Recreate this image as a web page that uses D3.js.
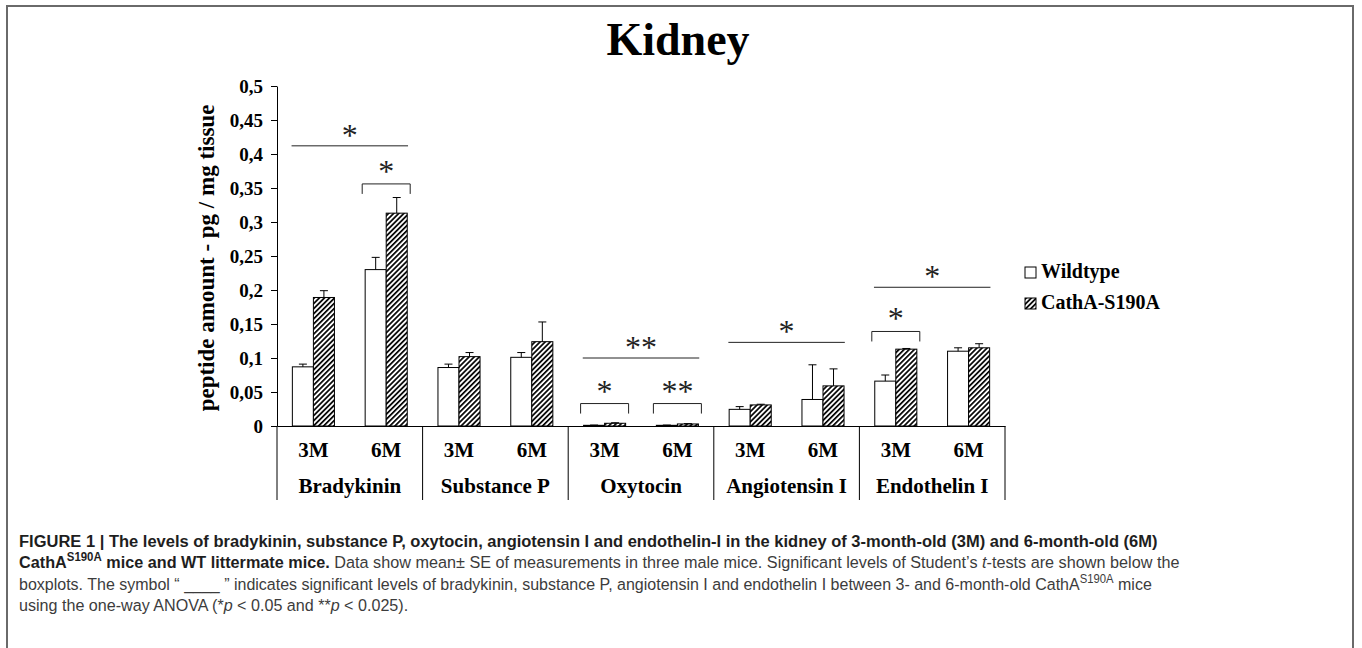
<!DOCTYPE html>
<html>
<head>
<meta charset="utf-8">
<style>
  body { margin: 0; background: #fff; }
  svg { display: block; }
  .serif { font-family: "Liberation Serif", "Times New Roman", serif; }
</style>
</head>
<body>
<svg width="1362" height="648"></svg>
<script src="https://d3js.org/d3.v7.min.js"></script>
<script>

  // ---- data ----
  var groups = ["Bradykinin", "Substance P", "Oxytocin", "Angiotensin I", "Endothelin I"];
  var ages = ["3M", "6M"];
  var seriesNames = ["Wildtype", "CathA-S190A"];

  // means per group: [3M, 6M]
  var wildtype = [[0.087, 0.230], [0.086, 0.101], [0.001, 0.001], [0.0245, 0.039], [0.066, 0.110]];
  var cathA = [[0.189, 0.313], [0.102, 0.124], [0.004, 0.003], [0.031, 0.059], [0.113, 0.115]];
  // standard errors (drawn upward only)
  var wildtypeSE = [[0.004, 0.018], [0.005, 0.007], [0.0004, 0.0004], [0.004, 0.051], [0.009, 0.005]];
  var cathASE = [[0.010, 0.023], [0.006, 0.029], [0.0008, 0.0005], [0.001, 0.025], [0.001, 0.006]];

  var yTicks = [0, 0.05, 0.1, 0.15, 0.2, 0.25, 0.3, 0.35, 0.4, 0.45, 0.5];
  var yTickLabels = ["0", "0,05", "0,1", "0,15", "0,2", "0,25", "0,3", "0,35", "0,4", "0,45", "0,5"];

  // one-way ANOVA lines (whole group) and t-test brackets (per age)
  var anovaMarks = [
    { group: "Bradykinin", level: 0.412, label: "*" },
    { group: "Oxytocin", level: 0.100, label: "**" },
    { group: "Angiotensin I", level: 0.123, label: "*" },
    { group: "Endothelin I", level: 0.204, label: "*" }
  ];
  var tTestMarks = [
    { group: "Bradykinin", age: "6M", level: 0.356, label: "*" },
    { group: "Oxytocin", age: "3M", level: 0.033, label: "*" },
    { group: "Oxytocin", age: "6M", level: 0.033, label: "**" },
    { group: "Endothelin I", age: "3M", level: 0.139, label: "*" }
  ];

  var captionLines = [
    [{ t: "FIGURE 1 | The levels of bradykinin, substance P, oxytocin, angiotensin I and endothelin-I in the kidney of 3-month-old (3M) and 6-month-old (6M)", b: 1 }],
    [{ t: "CathA", b: 1 }, { t: "S190A", b: 1, sup: 1 }, { t: " mice and WT littermate mice.", b: 1 },
     { t: " Data show mean\u00b1 SE of measurements in three male mice. Significant levels of Student\u2019s " },
     { t: "t", i: 1 }, { t: "-tests are shown below the" }],
    [{ t: "boxplots. The symbol \u201c ____ \u201d indicates significant levels of bradykinin, substance P, angiotensin I and endothelin I between 3- and 6-month-old CathA" },
     { t: "S190A", sup: 1 }, { t: " mice" }],
    [{ t: "using the one-way ANOVA (*" }, { t: "p", i: 1 }, { t: " < 0.05 and **" }, { t: "p", i: 1 }, { t: " < 0.025)." }]
  ];

  // ---- layout ----
  var svg = d3.select("svg");
  var plotLeft = 277, plotRight = 1005, plotTop = 86, plotBottom = 426;

  svg.append("rect").attr("width", 1362).attr("height", 648).attr("fill", "#fff");

  // frame of the figure panel
  svg.append("path")
    .attr("d", "M7,648V6H1353V648")
    .attr("fill", "none")
    .attr("stroke", "#6a6a6a")
    .attr("stroke-width", 2);

  var defs = svg.append("defs");
  var hatch = defs.append("pattern")
    .attr("id", "hatch")
    .attr("patternUnits", "userSpaceOnUse")
    .attr("width", 3.6)
    .attr("height", 3.6)
    .attr("patternTransform", "rotate(45)");
  hatch.append("rect").attr("width", 3.6).attr("height", 3.6).attr("fill", "#fff");
  hatch.append("rect").attr("width", 1.7).attr("height", 3.6).attr("fill", "#000");

  var x0 = d3.scaleBand().domain(groups).range([plotLeft, plotRight]);
  var x1 = d3.scaleBand().domain(ages).range([0, x0.bandwidth()]);
  var x2 = d3.scaleBand().domain(seriesNames).range([0, x1.bandwidth()]).paddingOuter(0.73);
  var y = d3.scaleLinear().domain([0, 0.5]).range([plotBottom, plotTop]);

  // title
  svg.append("text")
    .attr("class", "serif")
    .attr("x", 678)
    .attr("y", 55)
    .attr("text-anchor", "middle")
    .attr("font-size", 46)
    .attr("font-weight", "bold")
    .text("Kidney");

  // y axis
  var yAxis = d3.axisLeft(y)
    .tickValues(yTicks)
    .tickFormat(function (d, i) { return yTickLabels[i]; })
    .tickSize(6)
    .tickSizeOuter(0)
    .tickPadding(8);

  var yGroup = svg.append("g")
    .attr("transform", "translate(" + plotLeft + ",0)")
    .call(yAxis);
  yGroup.selectAll("path, line").attr("stroke", "#000");
  yGroup.selectAll("text")
    .attr("class", "serif")
    .attr("font-size", 19)
    .attr("font-weight", "bold")
    .attr("fill", "#000");

  svg.append("text")
    .attr("class", "serif")
    .attr("transform", "translate(214," + ((plotTop + plotBottom) / 2 + 2) + ") rotate(-90)")
    .attr("text-anchor", "middle")
    .attr("font-size", 23)
    .attr("font-weight", "bold")
    .text("peptide amount - pg / mg tissue");

  // x axis as a two-level category table
  var xAxis = d3.axisBottom(x0).tickValues([]).tickSizeOuter(0);
  var xGroup = svg.append("g")
    .attr("transform", "translate(0," + plotBottom + ")")
    .call(xAxis);
  xGroup.select(".domain").attr("stroke", "#000");

  var dividers = groups.map(function (g) { return x0(g); }).concat([plotRight]);
  svg.append("g").selectAll("line")
    .data(dividers)
    .join("line")
    .attr("x1", function (d) { return d; })
    .attr("x2", function (d) { return d; })
    .attr("y1", plotBottom)
    .attr("y2", 500)
    .attr("stroke", "#000");

  var cells = [];
  groups.forEach(function (g, gi) {
    ages.forEach(function (a, ai) {
      cells.push({ group: g, age: a, values: [wildtype[gi][ai], cathA[gi][ai]], se: [wildtypeSE[gi][ai], cathASE[gi][ai]] });
    });
  });

  svg.append("g").selectAll("text")
    .data(cells)
    .join("text")
    .attr("class", "serif")
    .attr("x", function (d) { return x0(d.group) + x1(d.age) + x1.bandwidth() / 2; })
    .attr("y", 457)
    .attr("text-anchor", "middle")
    .attr("font-size", 21)
    .attr("font-weight", "bold")
    .text(function (d) { return d.age; });

  svg.append("g").selectAll("text")
    .data(groups)
    .join("text")
    .attr("class", "serif")
    .attr("x", function (d) { return x0(d) + x0.bandwidth() / 2; })
    .attr("y", 493)
    .attr("text-anchor", "middle")
    .attr("font-size", 21)
    .attr("font-weight", "bold")
    .text(function (d) { return d; });

  // bars
  var bars = [];
  cells.forEach(function (c) {
    seriesNames.forEach(function (s, si) {
      bars.push({ group: c.group, age: c.age, series: s, value: c.values[si], se: c.se[si] });
    });
  });
  function barX(d) { return x0(d.group) + x1(d.age) + x2(d.series); }

  svg.append("g").selectAll("rect")
    .data(bars)
    .join("rect")
    .attr("x", barX)
    .attr("y", function (d) { return y(d.value); })
    .attr("width", x2.bandwidth())
    .attr("height", function (d) { return y(0) - y(d.value); })
    .attr("fill", function (d) { return d.series === "Wildtype" ? "#fff" : "url(#hatch)"; })
    .attr("stroke", "#000")
    .attr("stroke-width", 1);

  // error bars (upper half)
  var err = svg.append("g").attr("stroke", "#000").attr("stroke-width", 1);
  err.selectAll("line.v")
    .data(bars)
    .join("line")
    .attr("class", "v")
    .attr("x1", function (d) { return barX(d) + x2.bandwidth() / 2; })
    .attr("x2", function (d) { return barX(d) + x2.bandwidth() / 2; })
    .attr("y1", function (d) { return y(d.value); })
    .attr("y2", function (d) { return y(d.value + d.se); });
  err.selectAll("line.cap")
    .data(bars)
    .join("line")
    .attr("class", "cap")
    .attr("x1", function (d) { return barX(d) + x2.bandwidth() / 2 - 4; })
    .attr("x2", function (d) { return barX(d) + x2.bandwidth() / 2 + 4; })
    .attr("y1", function (d) { return y(d.value + d.se); })
    .attr("y2", function (d) { return y(d.value + d.se); });

  // significance marks
  var sig = svg.append("g");
  sig.selectAll("line")
    .data(anovaMarks)
    .join("line")
    .attr("x1", function (d) { return x0(d.group) + x0.bandwidth() * 0.1; })
    .attr("x2", function (d) { return x0(d.group) + x0.bandwidth() * 0.9; })
    .attr("y1", function (d) { return y(d.level); })
    .attr("y2", function (d) { return y(d.level); })
    .attr("stroke", "#222");

  sig.selectAll("path")
    .data(tTestMarks)
    .join("path")
    .attr("d", function (d) {
      var cx = x0(d.group) + x1(d.age) + x1.bandwidth() / 2,
        yy = y(d.level);
      return "M" + (cx - 24) + "," + (yy + 10) + "V" + yy + "H" + (cx + 24) + "V" + (yy + 10);
    })
    .attr("fill", "none")
    .attr("stroke", "#222");

  var starData = anovaMarks.map(function (d) {
    return { x: x0(d.group) + x0.bandwidth() / 2, y: y(d.level) - 15, label: d.label };
  }).concat(tTestMarks.map(function (d) {
    return { x: x0(d.group) + x1(d.age) + x1.bandwidth() / 2, y: y(d.level) - 17, label: d.label };
  }));

  sig.selectAll("text")
    .data(starData)
    .join("text")
    .attr("class", "serif")
    .attr("x", function (d) { return d.x; })
    .attr("y", function (d) { return d.y + 15; })
    .attr("text-anchor", "middle")
    .attr("font-size", 32)
    .attr("fill", "#222")
    .text(function (d) { return d.label; });

  // legend
  var legend = svg.append("g")
    .selectAll("g")
    .data(seriesNames)
    .join("g")
    .attr("transform", function (d, i) { return "translate(1025," + (267 + i * 31) + ")"; });
  legend.append("rect")
    .attr("width", 11)
    .attr("height", 11)
    .attr("fill", function (d, i) { return i === 0 ? "#fff" : "url(#hatch)"; })
    .attr("stroke", "#000");
  legend.append("text")
    .attr("class", "serif")
    .attr("x", 16)
    .attr("y", 11)
    .attr("font-size", 20)
    .attr("font-weight", "bold")
    .text(function (d) { return d; });

  // caption; the first three lines are fitted to the right margin seen in the figure
  var captionRight = [1158, 1180, 1153];
  var cap = svg.append("g")
    .attr("font-family", "'Liberation Sans', Arial, Helvetica, sans-serif")
    .attr("font-size", 17)
    .attr("fill", "#3c3c3c");

  var scales = [];
  captionLines.forEach(function (parts, li) {
    var base = "translate(19," + (547 + li * 21.3) + ")";
    var t = cap.append("text").attr("transform", base);
    var raised = false;
    parts.forEach(function (p) {
      var s = t.append("tspan").text(p.t);
      if (p.b) s.attr("font-weight", "bold").attr("fill", "#1e1e1e");
      if (p.i) s.attr("font-style", "italic");
      if (p.sup) { s.attr("dy", -7).attr("font-size", 12); raised = true; }
      else if (raised) { s.attr("dy", 7); raised = false; }
    });
    var sx;
    if (li < captionRight.length) {
      sx = (captionRight[li] - 19) / t.node().getComputedTextLength();
      scales.push(sx);
    } else {
      sx = d3.mean(scales.slice(1));
    }
    t.attr("transform", base + " scale(" + sx + ",1)");
  });

</script>
</body>
</html>
